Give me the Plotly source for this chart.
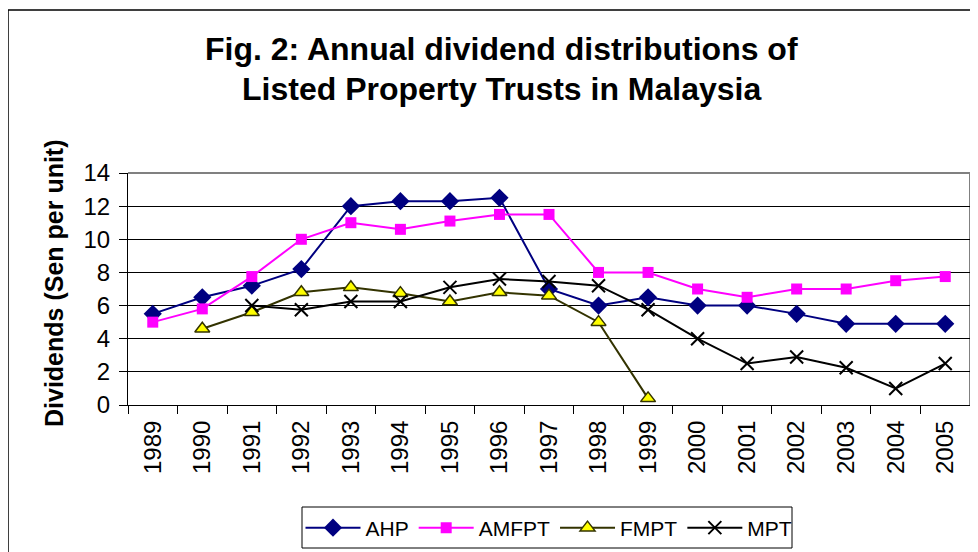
import plotly.graph_objects as go

years = [str(y) for y in range(1989, 2006)]

ahp = [5.5, 6.5, 7.2, 8.2, 12.0, 12.3, 12.3, 12.5, 7.0, 6.0, 6.5, 6.0, 6.0, 5.5, 4.9, 4.9, 4.9]
amfpt = [5.0, 5.8, 7.75, 10.0, 11.0, 10.6, 11.1, 11.5, 11.5, 8.0, 8.0, 7.0, 6.5, 7.0, 7.0, 7.5, 7.75]
fmpt = [None, 4.6, 5.6, 6.8, 7.1, 6.75, 6.25, 6.8, 6.6, 5.0, 0.4, None, None, None, None, None, None]
mpt = [None, None, 6.0, 5.75, 6.25, 6.25, 7.1, 7.6, 7.45, 7.2, 5.75, 4.0, 2.5, 2.9, 2.25, 1.0, 2.5]

y_ticks = [0, 2, 4, 6, 8, 10, 12, 14]
title_lines = ["Fig. 2: Annual dividend distributions of", "Listed Property Trusts in Malaysia"]

FONT = "Liberation Sans, Arial, sans-serif"

# page offset of the figure (browser body margin)
OFF = 8
W, H = 978 - OFF, 552 - OFF
PL, PR, PT, PB = 128, 970, 173, 405  # plot area in page pixels


def px(x):
    return (x - PL) / (PR - PL)


def py(y):
    return (PB - y) / (PB - PT)


fig = go.Figure()
fig.add_trace(go.Scatter(x=years, y=ahp, name="AHP", mode="lines+markers",
                         line=dict(color="#000080", width=2),
                         marker=dict(symbol="diamond", size=14, color="#000080")))
fig.add_trace(go.Scatter(x=years, y=amfpt, name="AMFPT", mode="lines+markers",
                         line=dict(color="#FF00FF", width=2),
                         marker=dict(symbol="square", size=11, color="#FF00FF")))
fig.add_trace(go.Scatter(x=years, y=fmpt, name="FMPT", mode="lines+markers",
                         line=dict(color="#333300", width=2),
                         marker=dict(symbol="triangle-up", size=13, color="#FFFF00",
                                     line=dict(color="#333300", width=1.5))))
fig.add_trace(go.Scatter(x=years, y=mpt, name="MPT", mode="lines+markers",
                         line=dict(color="#000000", width=2),
                         marker=dict(symbol="x-thin", size=13, color="#000000",
                                     line=dict(color="#000000", width=2))))

fig.update_layout(
    width=W, height=H,
    margin=dict(l=PL - OFF, r=W - (PR - OFF), t=PT - OFF, b=H - (PB - OFF)),
    paper_bgcolor="white", plot_bgcolor="white",
    font=dict(family=FONT, color="black"),
    showlegend=True,
    legend=dict(orientation="h", xref="container", yref="container",
                x=(549 - OFF) / W, xanchor="center",
                y=1 - (528 - OFF) / H, yanchor="middle",
                borderwidth=0, bgcolor="rgba(0,0,0,0)",
                font=dict(size=21, family=FONT, color="black"),
                itemwidth=55, tracegroupgap=0),
)

fig.update_xaxes(type="category", showgrid=False, showline=True, linecolor="black", linewidth=1,
                 ticks="outside", tickson="boundaries", ticklen=8, tickcolor="black",
                 tickangle=-90, tickfont=dict(size=24, family=FONT, color="black"),
                 ticklabelstandoff=5, range=[-0.5, 16.5])
fig.update_yaxes(range=[0, 14], tickvals=y_ticks, showgrid=True, gridcolor="black", gridwidth=1,
                 showline=True, linecolor="black", linewidth=1, zeroline=False,
                 ticks="outside", ticklen=8, tickcolor="black", ticklabelstandoff=4,
                 tickfont=dict(size=24, family=FONT, color="black"))

# title (two lines placed individually)
fig.add_annotation(text="<b>" + title_lines[0] + "</b>", xref="paper", yref="paper",
                   x=px(501), y=py(49), xanchor="center", yanchor="middle", showarrow=False,
                   font=dict(size=32, family=FONT, color="black"))
fig.add_annotation(text="<b>" + title_lines[1] + "</b>", xref="paper", yref="paper",
                   x=px(501), y=py(89), xanchor="center", yanchor="middle", showarrow=False,
                   font=dict(size=32, family=FONT, color="black"))

fig.add_annotation(text="<b>Dividends (Sen per unit)</b>", xref="paper", yref="paper",
                   x=px(54), y=py(283), textangle=-90, showarrow=False,
                   xanchor="center", yanchor="middle",
                   font=dict(size=25, family=FONT, color="black"))

# plot-area border (top & right, gray)
fig.add_shape(type="line", xref="paper", yref="paper", x0=0, x1=1, y0=1, y1=1,
              line=dict(color="#808080", width=2), layer="between")
fig.add_shape(type="line", xref="paper", yref="paper", x0=1, x1=1, y0=0, y1=1,
              line=dict(color="#808080", width=2), layer="between")
# chart-area outer border
fig.add_shape(type="rect", xref="paper", yref="paper",
              x0=px(8), x1=1.5, y0=-2, y1=py(10),
              line=dict(color="black", width=1.5), layer="below")
# legend box
fig.add_shape(type="rect", xref="paper", yref="paper",
              x0=px(302), x1=px(792), y0=py(548), y1=py(507),
              line=dict(color="black", width=1), fillcolor="white", layer="below")

fig.write_html("out.html")
